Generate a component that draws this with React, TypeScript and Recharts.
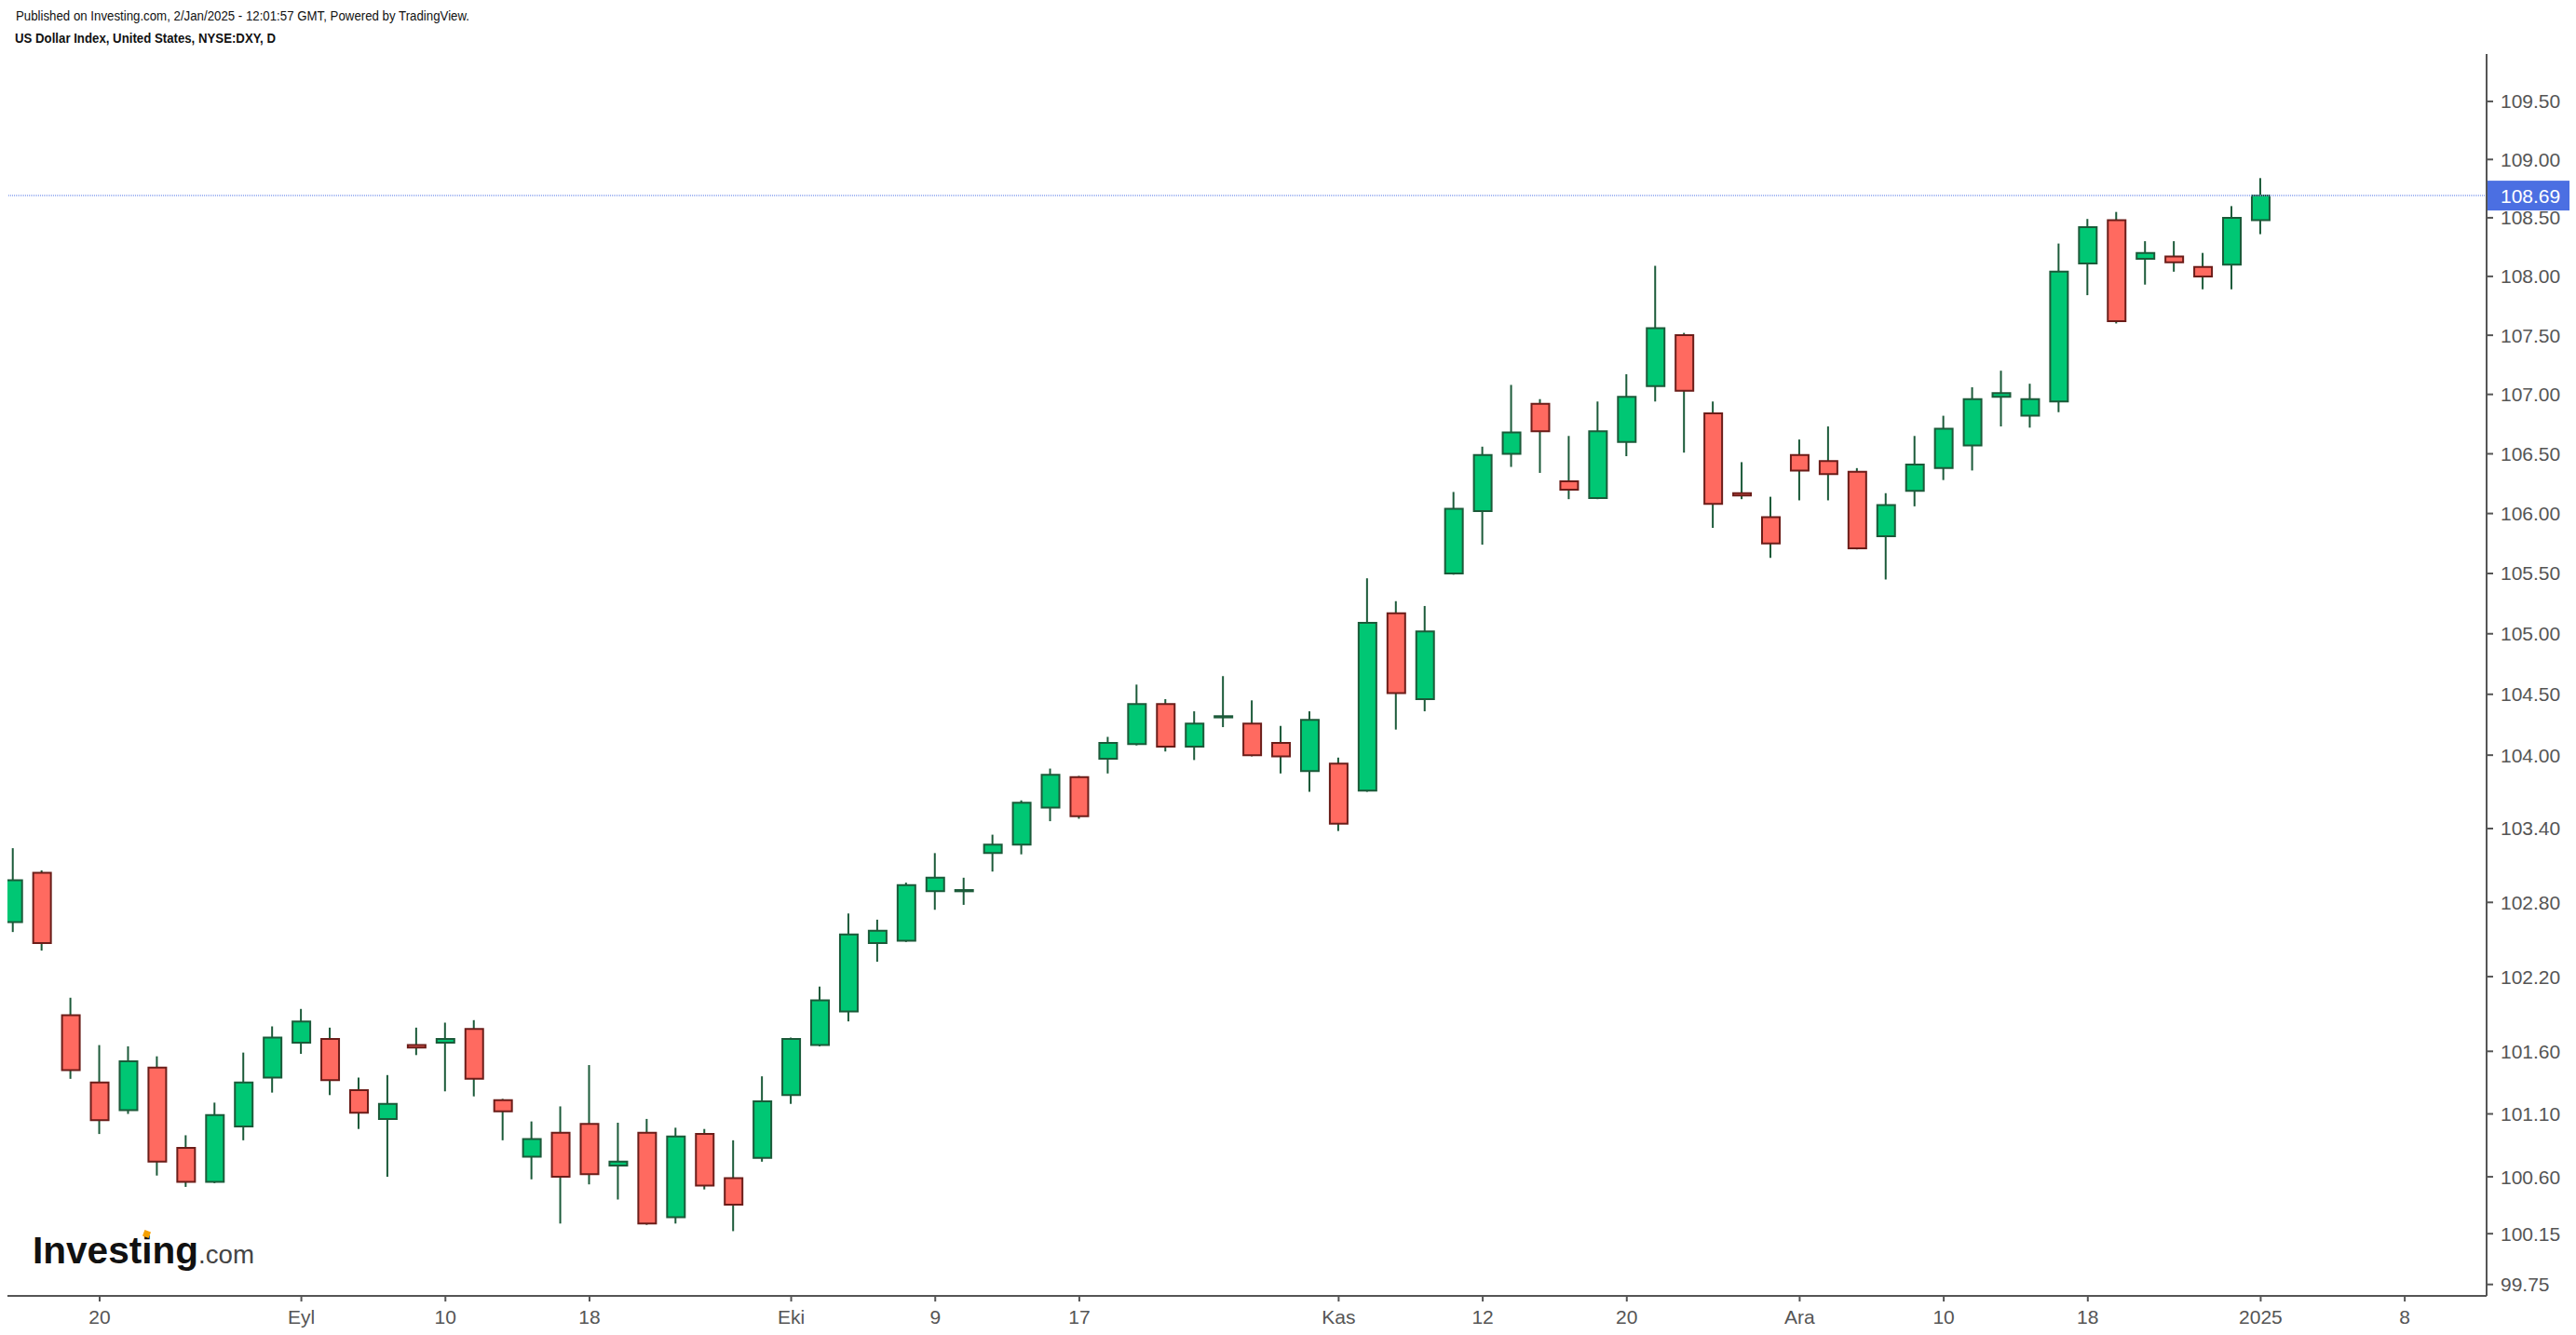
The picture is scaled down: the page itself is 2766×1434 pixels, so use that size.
import { Bar, Cell, ComposedChart, ReferenceLine, XAxis, YAxis } from "recharts";

const FONT = '"Liberation Sans", Arial, sans-serif';

// daily OHLC, oldest first
const opens = [
  102.64, 103.04, 101.89, 101.35, 101.13, 101.47, 100.83, 100.56, 101.0, 101.39,
  101.67, 101.7, 101.29, 101.06, 101.65, 101.67, 101.78, 101.21, 100.76, 100.95,
  101.02, 100.69, 100.95, 100.28, 100.94, 100.59, 100.75, 101.25, 101.65, 101.92,
  102.47, 102.49, 102.89, 102.89, 103.2, 103.27, 103.57, 103.82, 103.97, 104.09,
  104.42, 104.07, 104.31, 104.26, 104.1, 103.87, 103.93, 103.71, 105.17, 104.46,
  105.5, 106.02, 106.5, 106.92, 106.27, 106.13, 106.6, 107.07, 107.5, 106.84,
  106.17, 105.97, 106.49, 106.44, 106.35, 105.81, 106.19, 106.38, 106.57, 106.98,
  106.82, 106.94, 108.11, 108.48, 108.15, 108.17, 108.08, 108.1, 108.48,
];
const highs = [
  103.24, 103.06, 102.03, 101.65, 101.64, 101.56, 100.93, 101.19, 101.59, 101.8,
  101.94, 101.79, 101.39, 101.41, 101.79, 101.83, 101.85, 101.22, 101.04, 101.16,
  101.49, 101.03, 101.06, 100.99, 100.98, 100.89, 101.4, 101.71, 102.12, 102.71,
  102.66, 102.96, 103.2, 103.0, 103.35, 103.63, 103.89, 103.83, 104.15, 104.58,
  104.46, 104.36, 104.65, 104.45, 104.24, 104.36, 103.98, 105.46, 105.27, 105.23,
  106.18, 106.56, 107.08, 106.96, 106.65, 106.94, 107.17, 108.09, 107.52, 106.94,
  106.43, 106.14, 106.62, 106.73, 106.38, 106.17, 106.65, 106.82, 107.06, 107.2,
  107.09, 108.28, 108.49, 108.55, 108.3, 108.3, 108.2, 108.6, 108.84,
];
const lows = [
  102.56, 102.41, 101.38, 100.94, 101.1, 100.61, 100.52, 100.55, 100.89, 101.27,
  101.58, 101.25, 100.98, 100.6, 101.57, 101.28, 101.24, 100.89, 100.58, 100.23,
  100.54, 100.42, 100.22, 100.23, 100.5, 100.17, 100.72, 101.18, 101.64, 101.84,
  102.32, 102.48, 102.74, 102.78, 103.05, 103.19, 103.46, 103.48, 103.85, 104.08,
  104.03, 103.96, 104.23, 103.99, 103.85, 103.7, 103.38, 103.7, 104.21, 104.36,
  105.49, 105.74, 106.39, 106.34, 106.12, 106.12, 106.48, 106.94, 106.51, 105.88,
  106.12, 105.63, 106.11, 106.11, 105.7, 105.45, 106.06, 106.28, 106.36, 106.73,
  106.72, 106.85, 107.84, 107.6, 107.93, 108.04, 107.89, 107.89, 108.36,
];
const closes = [
  102.98, 102.47, 101.45, 101.05, 101.52, 100.72, 100.56, 101.09, 101.35, 101.71,
  101.84, 101.37, 101.11, 101.18, 101.63, 101.7, 101.38, 101.12, 100.9, 100.6,
  100.62, 100.72, 100.23, 100.92, 100.53, 100.38, 101.2, 101.7, 102.01, 102.54,
  102.57, 102.94, 103.0, 102.9, 103.27, 103.61, 103.84, 103.5, 104.1, 104.42,
  104.07, 104.26, 104.32, 104.0, 103.99, 104.29, 103.44, 105.09, 104.51, 105.02,
  106.04, 106.49, 106.68, 106.69, 106.2, 106.69, 106.98, 107.56, 107.03, 106.08,
  106.15, 105.75, 106.36, 106.33, 105.71, 106.07, 106.41, 106.71, 106.96, 107.01,
  106.96, 108.04, 108.42, 107.62, 108.2, 108.12, 108.0, 108.5, 108.69,
];

// bar index of each date label on the time axis
const tickIdx = [3, 10, 15, 20, 27, 32, 37, 46, 51, 56, 62, 67, 72, 78, 83];
const tickLabels = ["20", "Eyl", "10", "18", "Eki", "9", "17", "Kas", "12", "20", "Ara", "10", "18", "2025", "8"];

const priceTicks = [
  99.75, 100.15, 100.6, 101.1, 101.6, 102.2, 102.8, 103.4, 104, 104.5,
  105, 105.5, 106, 106.5, 107, 107.5, 108, 108.5, 109, 109.5,
];
const lastPrice = 108.69;

const UP = "#00C774";
const DOWN = "#FF6A60";
const UP_EDGE = "#1B5A39";
const DOWN_EDGE = "#6B1D19";
const WICK = "#1B5A39";

const rows = opens.map((o, i) => ({
  i,
  wick: [lows[i], highs[i]],
  body: [Math.min(o, closes[i]), Math.max(o, closes[i])],
  up: closes[i] >= o,
}));

function PriceTag(props: any) {
  const vb = props.viewBox || {};
  const x = vb.x + vb.width;
  const y = vb.y;
  return (
    <g>
      <rect x={x - 1} y={y - 16} width={90} height={32} fill="#4B6FE2" />
      <text x={x + 15} y={y} dy="0.36em" fill="#fff" fontSize={21} fontFamily={FONT}>
        {lastPrice.toFixed(2)}
      </text>
    </g>
  );
}

export default function App() {
  return (
    <div style={{ position: "absolute", left: 0, top: 0, width: 2766, height: 1434, background: "#fff" }}>
      <ComposedChart
        width={2766}
        height={1434}
        data={rows}
        margin={{ top: 58, right: 0, bottom: 0, left: 8 }}
      >
        <XAxis
          xAxisId="main"
          dataKey="i"
          type="number"
          domain={[-0.2, 85.84]}
          allowDataOverflow
          ticks={tickIdx}
          interval={0}
          tickFormatter={(v) => tickLabels[tickIdx.indexOf(v)] ?? ""}
          height={42}
          tickSize={6}
          tickMargin={9}
          axisLine={{ stroke: "#555", strokeWidth: 2 }}
          tickLine={{ stroke: "#555", strokeWidth: 2 }}
          tick={{ fontSize: 21, fill: "#555", fontFamily: FONT }}
        />
        <XAxis xAxisId="wick" dataKey="i" type="number" domain={[-0.2, 85.84]} allowDataOverflow hide />
        <YAxis
          orientation="right"
          scale="log"
          type="number"
          domain={[99.66, 109.91]}
          allowDataOverflow
          ticks={priceTicks}
          interval={0}
          tickFormatter={(v) => Number(v).toFixed(2)}
          width={96}
          tickSize={7}
          tickMargin={8}
          axisLine={{ stroke: "#555", strokeWidth: 2 }}
          tickLine={{ stroke: "#555", strokeWidth: 2 }}
          tick={{ fontSize: 21, fill: "#555", fontFamily: FONT, textAnchor: "start" }}
        />
        <ReferenceLine
          xAxisId="main"
          y={lastPrice}
          stroke="#8AA2F0"
          strokeWidth={1.5}
          strokeDasharray="1 1"
          label={<PriceTag />}
        />
        <Bar xAxisId="wick" dataKey="wick" barSize={2} fill={WICK} isAnimationActive={false} />
        <Bar xAxisId="main" dataKey="body" barSize={19} strokeWidth={2} isAnimationActive={false}>
          {rows.map((r) => (
            <Cell key={r.i} fill={r.up ? UP : DOWN} stroke={r.up ? UP_EDGE : DOWN_EDGE} />
          ))}
        </Bar>
      </ComposedChart>
      <svg
        width={2766}
        height={1434}
        style={{ position: "absolute", left: 0, top: 0, pointerEvents: "none" }}
      >
        <text x={17} y={22} fontSize={14} fontFamily={FONT} fill="#111" textLength={487} lengthAdjust="spacingAndGlyphs">
          Published on Investing.com, 2/Jan/2025 - 12:01:57 GMT, Powered by TradingView.
        </text>
        <text x={16} y={46} fontSize={14} fontWeight="bold" fontFamily={FONT} fill="#111" textLength={280} lengthAdjust="spacingAndGlyphs">
          US Dollar Index, United States, NYSE:DXY, D
        </text>
        <text x={35} y={1357} fontSize={40} fontWeight="bold" fontFamily={FONT} fill="#111" textLength={178} lengthAdjust="spacingAndGlyphs">
          Investing
        </text>
        <text x={213} y={1357} fontSize={28} fontFamily={FONT} fill="#444" textLength={60} lengthAdjust="spacingAndGlyphs">
          .com
        </text>
        <rect x={154} y={1322} width={7} height={7} fill="#F5A000" transform="rotate(20 157.5 1325.5)" />
      </svg>
    </div>
  );
}
